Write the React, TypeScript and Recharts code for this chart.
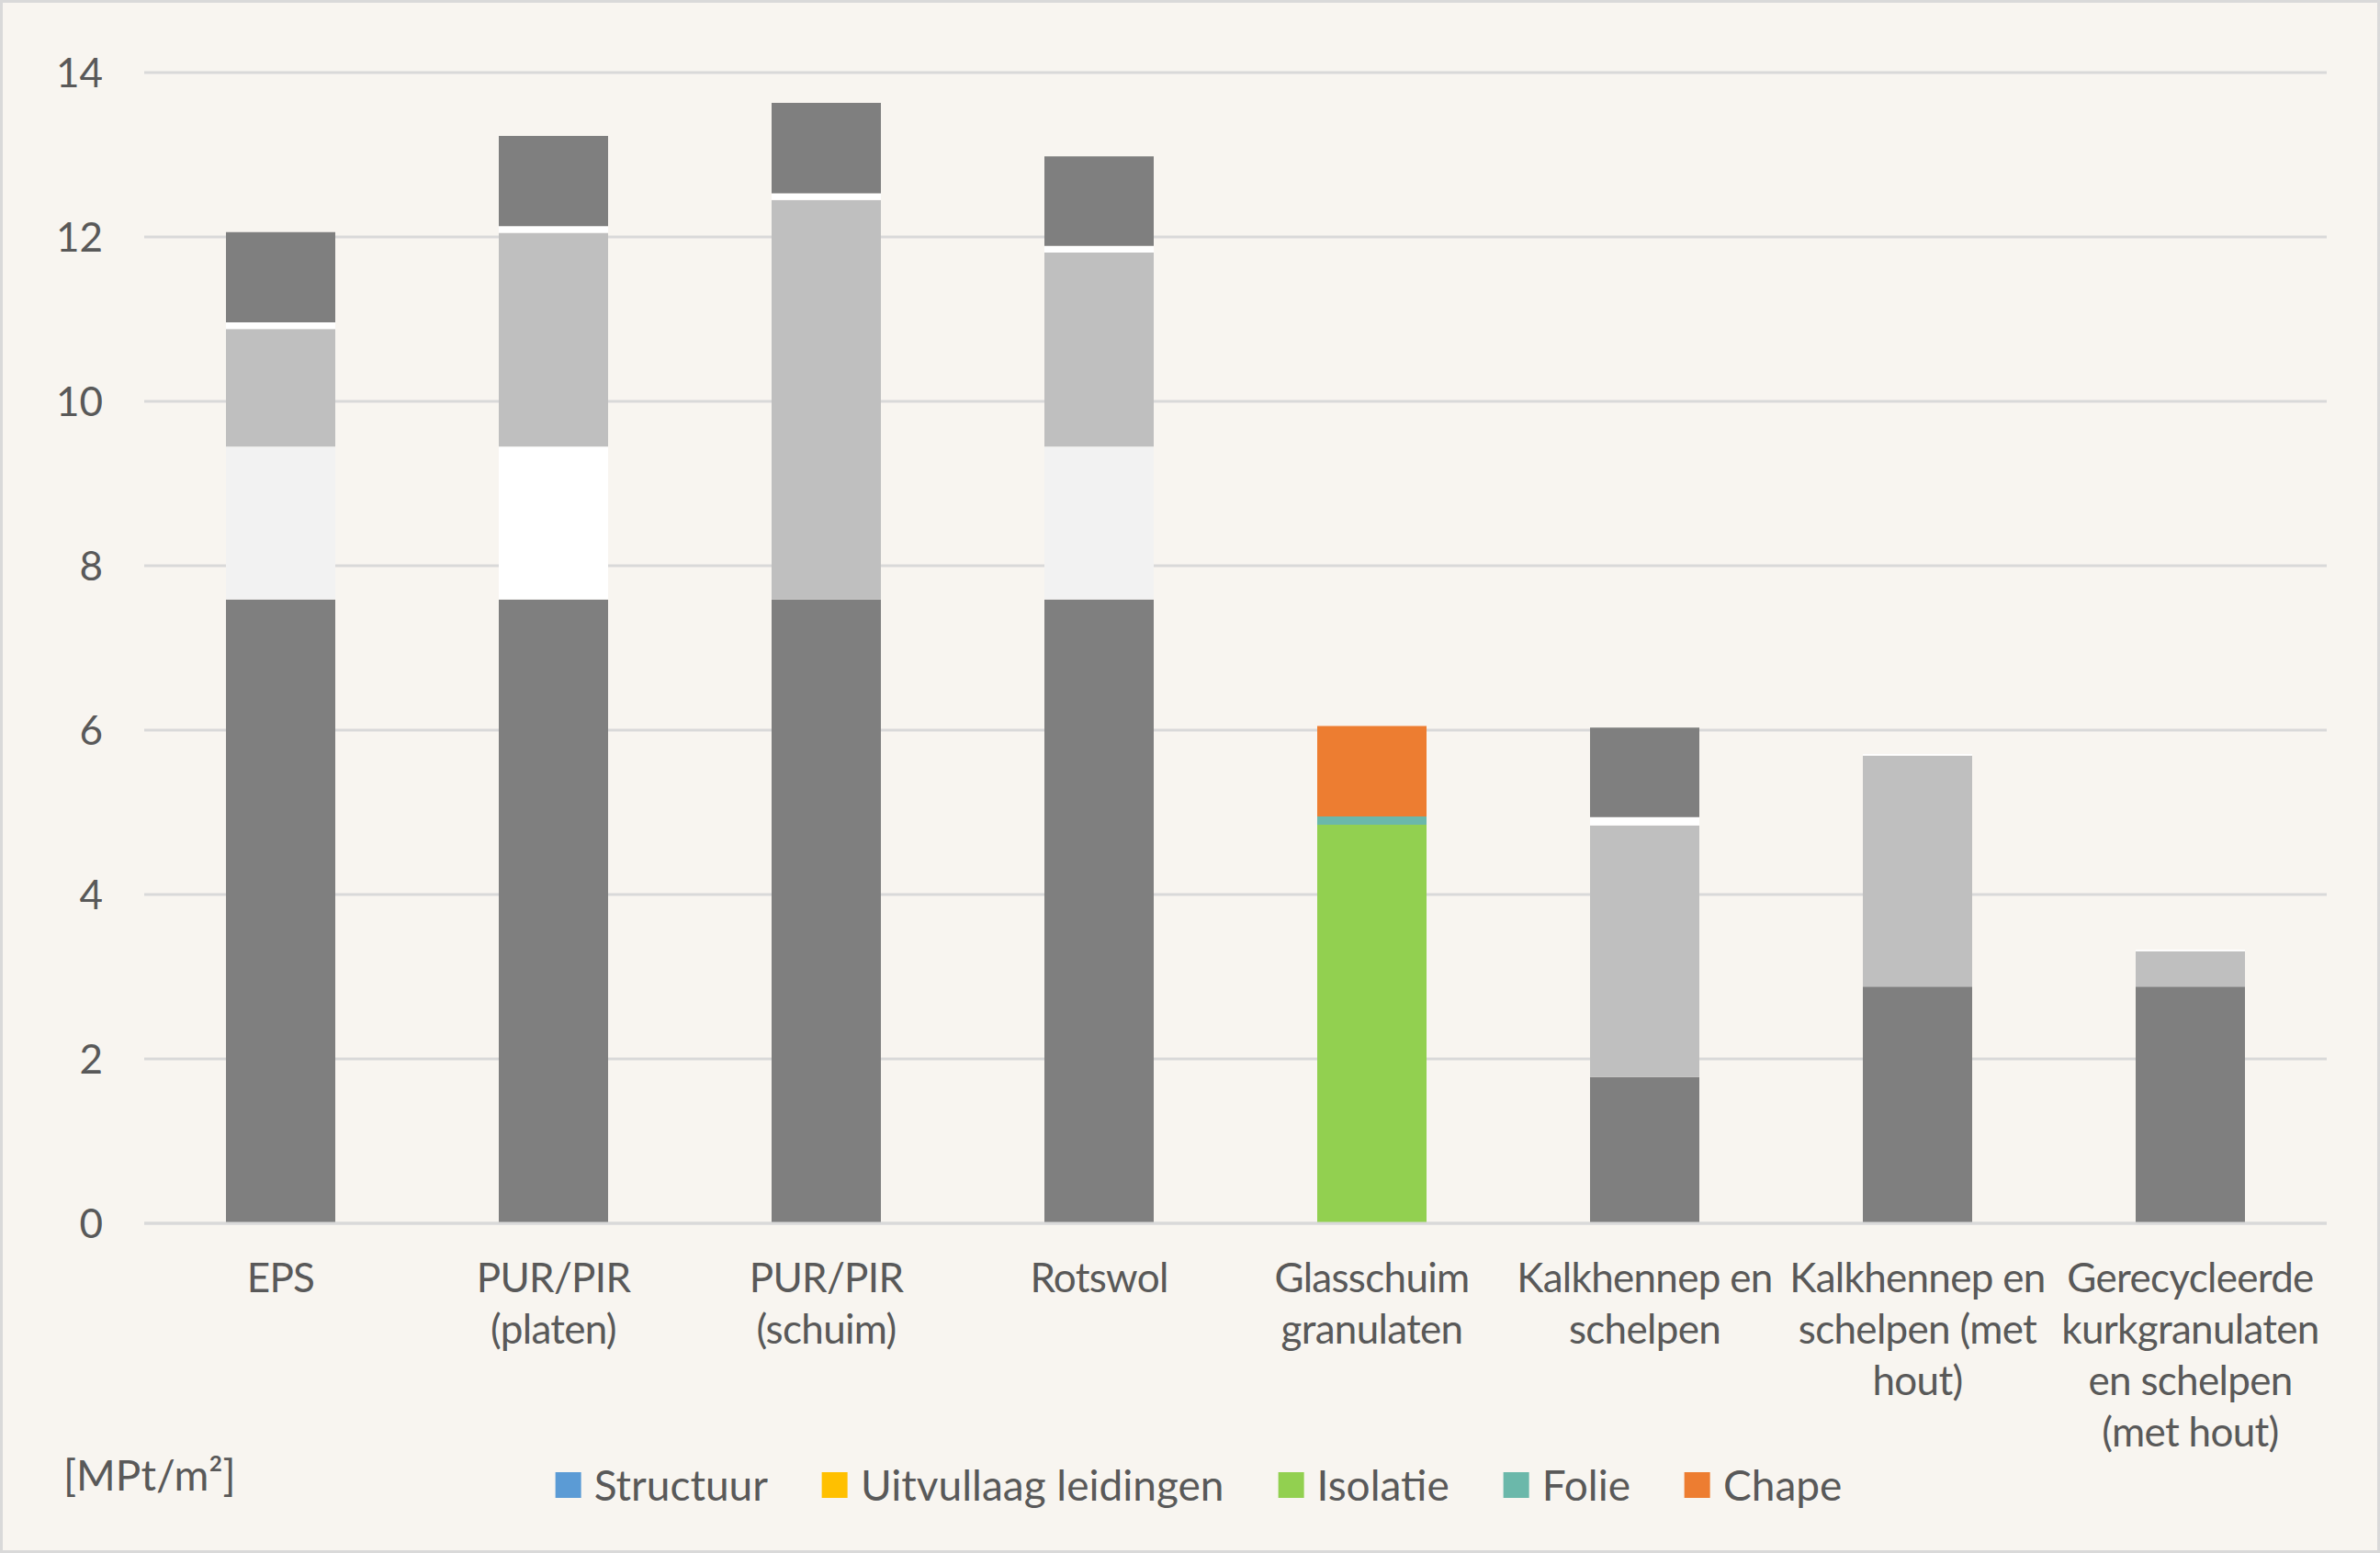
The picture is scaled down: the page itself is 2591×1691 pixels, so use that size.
import { BarChart, Bar, Cell, XAxis, YAxis, CartesianGrid, Legend } from 'recharts'

// values in MPt/m² (bottom -> top)
const categories = [
  'EPS',
  'PUR/PIR\n(platen)',
  'PUR/PIR\n(schuim)',
  'Rotswol',
  'Glasschuim\ngranulaten',
  'Kalkhennep en\nschelpen',
  'Kalkhennep en\nschelpen (met\nhout)',
  'Gerecycleerde\nkurkgranulaten\nen schelpen\n(met hout)',
]
const structuur = [7.59, 7.59, 7.59, 7.59, 0, 1.78, 2.88, 2.88]
const uitvullaag = [1.86, 1.86, 0, 1.86, 0, 0, 0, 0]
const isolatie = [1.43, 2.6, 4.86, 2.36, 4.85, 3.06, 2.81, 0.43]
const folie = [0.08, 0.08, 0.08, 0.08, 0.1, 0.1, 0.02, 0.02]
const chape = [1.1, 1.1, 1.1, 1.09, 1.1, 1.09, 0, 0]
const yTicks = [0, 2, 4, 6, 8, 10, 12, 14]

// only the Glasschuim column keeps its series colours, the rest is greyed out
const DARK = '#7F7F7F'
const MID = '#BFBFBF'
const PALE = '#F2F2F2'
const WHITE = '#FFFFFF'
const structuurFills = [DARK, DARK, DARK, DARK, DARK, DARK, DARK, DARK]
const uitvullaagFills = [PALE, WHITE, PALE, PALE, '#FFC000', PALE, PALE, PALE]
const isolatieFills = [MID, MID, MID, MID, '#92D050', MID, MID, MID]
const folieFills = [WHITE, WHITE, WHITE, WHITE, '#6BB8AA', WHITE, WHITE, WHITE]
const chapeFills = [DARK, DARK, DARK, DARK, '#ED7D31', DARK, DARK, DARK]

const FONT = 'Lato, "Open Sans", sans-serif'
const FS = 44
const LS = -0.7
const LEGEND_FS = 46
const TEXT = '#595959'
const W = 2591
const H = 1691

const data = categories.map((name, i) => ({
  name,
  structuur: structuur[i],
  uitvullaag: uitvullaag[i],
  isolatie: isolatie[i],
  folie: folie[i],
  chape: chape[i],
}))

const series = [
  { key: 'structuur', name: 'Structuur', color: '#5B9BD5', fills: structuurFills },
  { key: 'uitvullaag', name: 'Uitvullaag leidingen', color: '#FFC000', fills: uitvullaagFills },
  { key: 'isolatie', name: 'Isolatie', color: '#92D050', fills: isolatieFills },
  { key: 'folie', name: 'Folie', color: '#6BB8AA', fills: folieFills },
  { key: 'chape', name: 'Chape', color: '#ED7D31', fills: chapeFills },
]
const seriesOrder = series.map((s) => s.name)

function CategoryTick({ x, y, payload }: any) {
  const lines = String(payload.value).split('\n')
  return (
    <text x={x} y={y} textAnchor="middle" fill={TEXT} fontSize={FS} fontFamily={FONT} letterSpacing={LS}>
      {lines.map((l, i) => (
        <tspan key={i} x={x} dy={i === 0 ? 75 : 56}>{l}</tspan>
      ))}
    </text>
  )
}

function LegendRow({ payload }: any) {
  const items = [...(payload ?? [])].sort((a: any, b: any) => seriesOrder.indexOf(a.value) - seriesOrder.indexOf(b.value))
  return (
    <div style={{
      position: 'absolute', left: 1305, top: 0, transform: 'translateX(-50%)',
      display: 'flex', alignItems: 'center', whiteSpace: 'nowrap',
      fontFamily: FONT, fontSize: LEGEND_FS, color: TEXT, lineHeight: '56px',
    }}>
      {items.map((p: any, i: number) => (
        <div key={i} style={{ display: 'flex', alignItems: 'center', marginRight: i < items.length - 1 ? 59 : 0 }}>
          <span style={{ width: 28, height: 28, background: p.color, marginRight: 14, display: 'inline-block' }} />
          <span>{p.value}</span>
        </div>
      ))}
    </div>
  )
}

export default function App() {
  return (
    <div style={{ position: 'absolute', left: 0, top: 0, width: W, height: H, background: '#F8F5F0' }}>
      <BarChart width={W} height={H} data={data} barSize={119}
        margin={{ top: 79, right: 58, left: 0, bottom: 0 }}>
        <CartesianGrid vertical={false} stroke="#D9D9D9" strokeWidth={3} />
        <XAxis dataKey="name" height={359} tickLine={false} tickSize={0} tickMargin={0}
          axisLine={{ stroke: '#D9D9D9', strokeWidth: 3 }} tick={<CategoryTick />} interval={0} />
        <YAxis width={157} domain={[0, 14]} ticks={yTicks} axisLine={false} tickLine={false}
          tickSize={0} tickMargin={45} tick={{ fill: TEXT, fontSize: FS, fontFamily: FONT }} />
        <Legend content={<LegendRow />}
          wrapperStyle={{ left: 0, top: 1589, width: W, height: 0, overflow: 'visible' }} />
        {series.map((s) => (
          <Bar key={s.key} dataKey={s.key} name={s.name} stackId="a" fill={s.color} isAnimationActive={false}>
            {s.fills.map((f, i) => <Cell key={i} fill={f} />)}
          </Bar>
        ))}
      </BarChart>
      <div style={{ position: 'absolute', left: 69, top: 1578, fontFamily: FONT, fontSize: LEGEND_FS, color: TEXT, lineHeight: '56px' }}>
        [MPt/m²]
      </div>
      <div style={{ position: 'absolute', inset: 0, border: '3px solid #D9D9D9', pointerEvents: 'none' }} />
    </div>
  )
}
